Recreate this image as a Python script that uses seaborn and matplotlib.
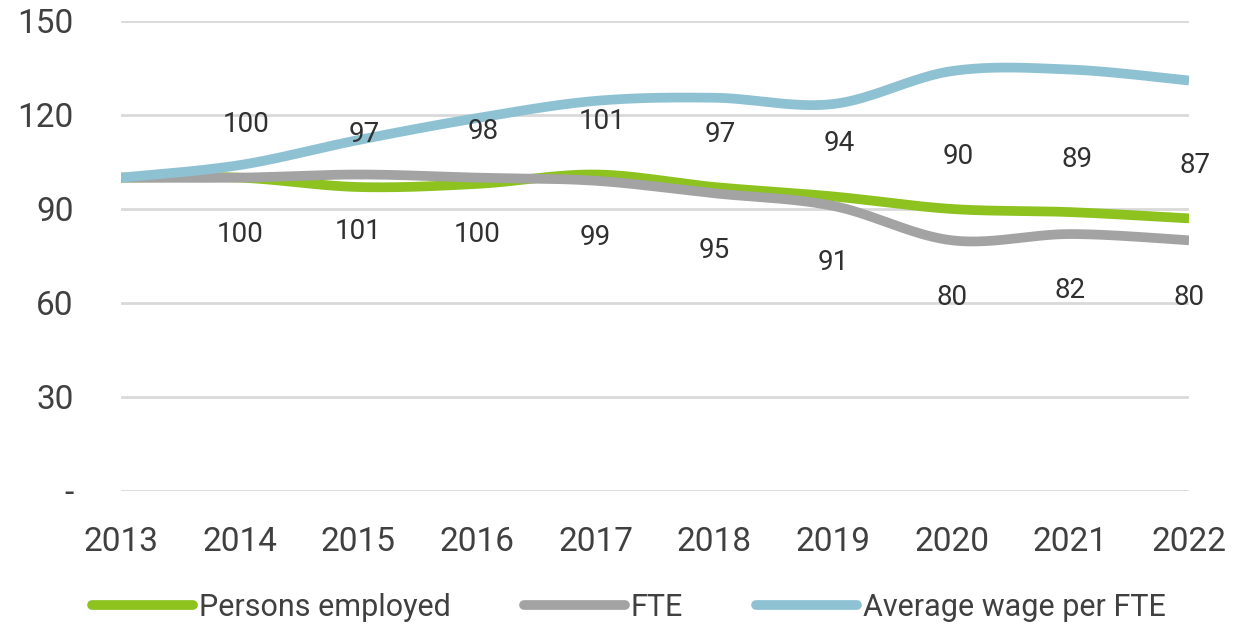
import numpy as np
import pandas as pd
import matplotlib
matplotlib.use("Agg")
import matplotlib.pyplot as plt
from matplotlib.lines import Line2D
import seaborn as sns

# ---- data ----
years = [2013, 2014, 2015, 2016, 2017, 2018, 2019, 2020, 2021, 2022]
persons_employed = [100, 100, 97, 98, 101, 97, 94, 90, 89, 87]
fte = [100, 100, 101, 100, 99, 95, 91, 80, 82, 80]
avg_wage_per_fte = [100, 104, 112, 119, 124.5, 125.5, 123.5, 134, 134.5, 131]
y_ticks = [0, 30, 60, 90, 120, 150]
y_tick_labels = ["-", "30", "60", "90", "120", "150"]
series_names = ["Persons employed", "FTE", "Average wage per FTE"]
colors = ["#8DC21F", "#A3A3A3", "#8EC2D3"]

sns.set_theme(style="white")
plt.rcParams["font.family"] = ["Roboto", "DejaVu Sans"]


def smooth(x, y, n=40):
    """Excel-like smoothed line (cubic Bezier / Catmull-Rom)."""
    P = np.column_stack([x, y]).astype(float)
    out = []
    m = len(P)
    t = np.linspace(0, 1, n)[:, None]
    for i in range(m - 1):
        p0 = P[i - 1] if i > 0 else P[i]
        p1 = P[i]
        p2 = P[i + 1]
        p3 = P[i + 2] if i + 2 < m else P[i + 1]
        c1 = p1 + (p2 - p0) / 6.0
        c2 = p2 - (p3 - p1) / 6.0
        seg = ((1 - t) ** 3) * p1 + 3 * ((1 - t) ** 2) * t * c1 + 3 * (1 - t) * t ** 2 * c2 + t ** 3 * p2
        out.append(seg if i == 0 else seg[1:])
    arr = np.vstack(out)
    return arr[:, 0], arr[:, 1]


fig = plt.figure(figsize=(12.58, 6.26), dpi=100)
ax = fig.add_axes([0.0962, 0.2157, 0.849, 0.7508])

for name, vals, col in zip(series_names, [persons_employed, fte, avg_wage_per_fte], colors):
    sx, sy = smooth(years, vals)
    df = pd.DataFrame({"x": sx, "y": sy})
    sns.lineplot(data=df, x="x", y="y", ax=ax, color=col, linewidth=7,
                 sort=False, estimator=None, solid_capstyle="butt", zorder=3)

# data labels
lab_kw = dict(fontsize=20, color="#303030", ha="center", va="center", textcoords="offset points")
for yr, v in list(zip(years, persons_employed))[1:]:
    ax.annotate(f"{v}", (yr, v), xytext=(4.5, 38), **lab_kw)
for yr, v in list(zip(years, fte))[1:]:
    ax.annotate(f"{v}", (yr, v), xytext=(0, -41), **lab_kw)

ax.set_xlim(years[0], years[-1])
ax.set_ylim(0, 150)
ax.set_yticks(y_ticks)
ax.set_yticklabels(y_tick_labels)
ax.set_xticks(years)
ax.set_xticklabels([str(y) for y in years])
ax.tick_params(axis="y", length=0, pad=34, labelsize=24, labelcolor="#404040")
ax.tick_params(axis="x", length=0, pad=25, labelsize=24, labelcolor="#404040")
ax.grid(axis="y", color="#D9D9D9", linewidth=2)
ax.grid(axis="x", visible=False)
for s in ax.spines.values():
    s.set_visible(False)
ax.set_xlabel("")
ax.set_ylabel("")

handles = [Line2D([0], [0], color=c, linewidth=7, solid_capstyle="round") for c in colors]
fig.legend(handles, series_names, loc="center", bbox_to_anchor=(0.5, 0.03), ncol=3,
           frameon=False, fontsize=22, handlelength=3.3, handletextpad=0.2,
           columnspacing=2.4, labelcolor="#404040")

fig.savefig("out.png", dpi=100)
